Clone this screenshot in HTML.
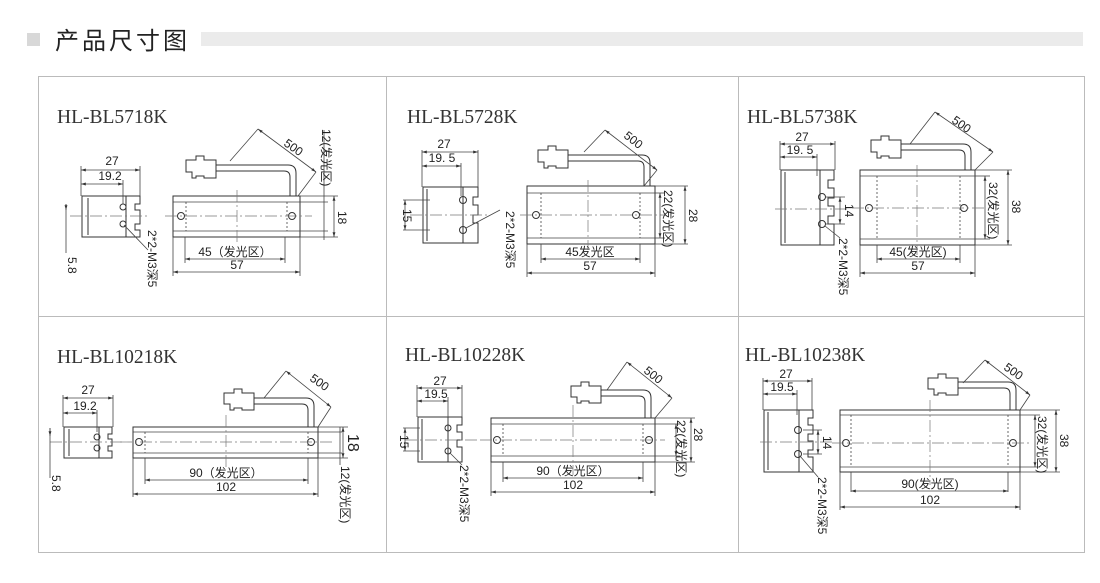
<!DOCTYPE html>
<html><head><meta charset="utf-8"><style>
html,body{margin:0;padding:0;background:#fff;}
svg{display:block;}
text{font-family:"Liberation Sans","Noto Sans CJK SC",sans-serif;fill:#222;}
.t{font-family:"Liberation Serif","Noto Serif CJK SC",serif;font-size:19.5px;fill:#333;}
.d{font-size:12px;}
.l{stroke:#444;stroke-width:0.8;fill:none;}
.b{stroke:#333;stroke-width:1;fill:none;}
.c{stroke:#777;stroke-width:0.7;fill:none;stroke-dasharray:12 3 2 3;}
</style></head><body>
<svg width="1100" height="583" viewBox="0 0 1100 583" xmlns="http://www.w3.org/2000/svg">
<defs>
<marker id="a" viewBox="0 0 10 10" refX="10" refY="5" markerWidth="6" markerHeight="6" orient="auto-start-reverse"><path d="M0,2 L10,5 L0,8z" fill="#333"/></marker>
</defs>
<!-- header -->
<rect x="27" y="33" width="13" height="13" fill="#d8d8d8"/>
<text x="55" y="49" font-size="24" letter-spacing="3" style="font-family:'Noto Sans CJK SC',sans-serif" fill="#333">产品尺寸图</text>
<rect x="201" y="32" width="882" height="14" fill="#ebebeb"/>
<!-- frame -->
<rect x="38.5" y="76.5" width="1046" height="476" fill="none" stroke="#bbb" stroke-width="1"/>
<line x1="386.5" y1="77" x2="386.5" y2="552" stroke="#bbb"/>
<line x1="738.5" y1="77" x2="738.5" y2="552" stroke="#bbb"/>
<line x1="39" y1="316.5" x2="1084" y2="316.5" stroke="#bbb"/>

<!-- ===== Panel 1 ===== -->
<text class="t" x="57" y="123">HL-BL5718K</text>
<g>
<rect class="b" x="82" y="196" width="44" height="41"/>
<line class="b" x1="88" y1="198" x2="88" y2="235"/>
<path class="b" d="M126,196 h14 v8 h-5 v6 h5 v14 h-5 v6 h5 v7 h-14"/>
<circle class="b" cx="123" cy="207" r="3"/><circle class="b" cx="123" cy="224" r="3"/>
<line class="c" x1="70" y1="216" x2="150" y2="216"/>
<line class="l" x1="81" y1="166" x2="81" y2="196"/><line class="l" x1="140" y1="166" x2="140" y2="196"/><line class="l" x1="123" y1="180" x2="123" y2="204"/>
<line class="l" x1="81" y1="170" x2="140" y2="170" marker-start="url(#a)" marker-end="url(#a)"/>
<line class="l" x1="81" y1="184" x2="123" y2="184" marker-start="url(#a)" marker-end="url(#a)"/>
<text class="d" x="112" y="165" text-anchor="middle">27</text>
<text class="d" x="110" y="180" text-anchor="middle">19.2</text>
<line class="l" x1="66" y1="204" x2="66" y2="253"/><line class="l" x1="66" y1="204" x2="66" y2="210" marker-end="url(#a)"/>
<text class="d" transform="translate(68,257) rotate(90)">5.8</text>
<line class="l" x1="124" y1="225" x2="148" y2="250"/>
<text class="d" transform="translate(148,230) rotate(90)" font-size="11">2*2-M3深5</text>
<rect class="b" x="173" y="196" width="127" height="41"/>
<line class="l" x1="173" y1="202" x2="300" y2="202"/><line class="l" x1="173" y1="231" x2="300" y2="231"/>
<line class="l" x1="186" y1="202" x2="186" y2="231" stroke-dasharray="2 2"/><line class="l" x1="287" y1="202" x2="287" y2="231" stroke-dasharray="2 2"/>
<circle class="b" cx="181" cy="216" r="3.5"/><circle class="b" cx="292" cy="216" r="3.5"/>
<line class="c" x1="165" y1="216" x2="312" y2="216"/><line class="c" x1="237" y1="190" x2="237" y2="245"/>
<path class="b" d="M186,160 h10 v-4 h8 v4 h12 v18 h-12 v-2 h-8 v2 h-4 v-6 h-6z"/>
<path class="b" d="M216,165 h72 q8,0 8,8 v23 M216,171 h68 q6,0 6,6 v19"/>
<line class="l" x1="258" y1="129" x2="230" y2="161"/><line class="l" x1="258" y1="129" x2="316" y2="172" marker-start="url(#a)" marker-end="url(#a)"/><line class="l" x1="316" y1="172" x2="298" y2="196"/>
<text class="d" transform="translate(283,145) rotate(35)">500</text>
<line class="l" x1="185" y1="237" x2="185" y2="263"/><line class="l" x1="285" y1="237" x2="285" y2="263"/>
<line class="l" x1="173" y1="237" x2="173" y2="276"/><line class="l" x1="300" y1="237" x2="300" y2="276"/>
<line class="l" x1="185" y1="259" x2="285" y2="259" marker-start="url(#a)" marker-end="url(#a)"/>
<line class="l" x1="173" y1="272" x2="300" y2="272" marker-start="url(#a)" marker-end="url(#a)"/>
<text class="d" x="235" y="256" text-anchor="middle">45（发光区）</text>
<text class="d" x="237" y="269" text-anchor="middle">57</text>
<line class="l" x1="300" y1="196" x2="338" y2="196"/><line class="l" x1="300" y1="237" x2="338" y2="237"/>
<line class="l" x1="300" y1="202" x2="328" y2="202"/><line class="l" x1="300" y1="231" x2="328" y2="231"/>
<line class="l" x1="334" y1="196" x2="334" y2="237" marker-start="url(#a)" marker-end="url(#a)"/>
<line class="l" x1="324" y1="130" x2="324" y2="240"/>
<text class="d" transform="translate(338,211) rotate(90)">18</text>
<text class="d" transform="translate(322,129) rotate(90)">12(发光区)</text>
</g>

<!-- ===== Panel 2 ===== -->
<text class="t" x="407" y="123">HL-BL5728K</text>
<g>
<rect class="b" x="423" y="187" width="40" height="56"/>
<line class="b" x1="427" y1="189" x2="427" y2="241"/>
<path class="b" d="M463,187 h15 v10 h-5 v8 h5 v10 h-5 v8 h5 v20 h-15"/>
<circle class="b" cx="463" cy="200" r="3.5"/><circle class="b" cx="463" cy="230" r="3.5"/>
<line class="c" x1="410" y1="215" x2="490" y2="215"/>
<line class="l" x1="422" y1="150" x2="422" y2="187"/><line class="l" x1="478" y1="150" x2="478" y2="187"/><line class="l" x1="461" y1="163" x2="461" y2="196"/>
<line class="l" x1="422" y1="152" x2="478" y2="152" marker-start="url(#a)" marker-end="url(#a)"/>
<line class="l" x1="422" y1="166" x2="461" y2="166" marker-start="url(#a)" marker-end="url(#a)"/>
<text class="d" x="444" y="148" text-anchor="middle">27</text>
<text class="d" x="442" y="162" text-anchor="middle">19. 5</text>
<line class="l" x1="403" y1="200" x2="430" y2="200"/><line class="l" x1="403" y1="230" x2="430" y2="230"/>
<line class="l" x1="405" y1="200" x2="405" y2="230" marker-start="url(#a)" marker-end="url(#a)"/>
<text class="d" transform="translate(403,209) rotate(90)">15</text>
<line class="l" x1="466" y1="228" x2="500" y2="210"/>
<text class="d" transform="translate(506,211) rotate(90)" font-size="11">2*2-M3深5</text>
<rect class="b" x="527" y="186" width="128" height="58"/>
<line class="l" x1="527" y1="193" x2="655" y2="193"/><line class="l" x1="527" y1="238" x2="655" y2="238"/>
<line class="l" x1="541" y1="193" x2="541" y2="238" stroke-dasharray="2 2"/><line class="l" x1="640" y1="193" x2="640" y2="238" stroke-dasharray="2 2"/>
<circle class="b" cx="536" cy="215" r="3.5"/><circle class="b" cx="636" cy="215" r="3.5"/>
<line class="c" x1="520" y1="215" x2="665" y2="215"/><line class="c" x1="588" y1="180" x2="588" y2="250"/>
<path class="b" d="M538,150 h10 v-4 h8 v4 h12 v18 h-12 v-2 h-8 v2 h-4 v-6 h-6z"/>
<path class="b" d="M568,155 h74 q8,0 8,8 v23 M568,161 h70 q6,0 6,6 v19"/>
<line class="l" x1="605" y1="130" x2="584" y2="152"/><line class="l" x1="605" y1="130" x2="657" y2="170" marker-start="url(#a)" marker-end="url(#a)"/><line class="l" x1="657" y1="170" x2="644" y2="186"/>
<text class="d" transform="translate(623,137) rotate(38)">500</text>
<line class="l" x1="541" y1="244" x2="541" y2="263"/><line class="l" x1="640" y1="244" x2="640" y2="263"/>
<line class="l" x1="527" y1="244" x2="527" y2="277"/><line class="l" x1="655" y1="244" x2="655" y2="277"/>
<line class="l" x1="541" y1="259" x2="640" y2="259" marker-start="url(#a)" marker-end="url(#a)"/>
<line class="l" x1="527" y1="273" x2="655" y2="273" marker-start="url(#a)" marker-end="url(#a)"/>
<text class="d" x="590" y="256" text-anchor="middle">45发光区</text>
<text class="d" x="590" y="270" text-anchor="middle">57</text>
<line class="l" x1="655" y1="186" x2="688" y2="186"/><line class="l" x1="655" y1="244" x2="688" y2="244"/>
<line class="l" x1="655" y1="193" x2="665" y2="193"/><line class="l" x1="655" y1="238" x2="665" y2="238"/>
<line class="l" x1="660" y1="193" x2="660" y2="238" marker-start="url(#a)" marker-end="url(#a)"/>
<line class="l" x1="685" y1="186" x2="685" y2="244" marker-start="url(#a)" marker-end="url(#a)"/>
<text class="d" transform="translate(664,190) rotate(90)">22(发光区)</text>
<text class="d" transform="translate(689,209) rotate(90)">28</text>
</g>

<!-- ===== Panel 3 ===== -->
<text class="t" x="747" y="123">HL-BL5738K</text>
<g>
<rect class="b" x="781" y="170" width="39" height="75"/>
<line class="b" x1="785" y1="172" x2="785" y2="243"/>
<path class="b" d="M820,170 h14 v10 h-6 v8 h6 v10 h-6 v8 h6 v10 h-6 v8 h6 v21 h-14"/>
<circle class="b" cx="822" cy="197" r="3.5"/><circle class="b" cx="822" cy="224" r="3.5"/>
<line class="c" x1="775" y1="209" x2="850" y2="209"/>
<line class="l" x1="780" y1="141" x2="780" y2="170"/><line class="l" x1="835" y1="141" x2="835" y2="170"/><line class="l" x1="817" y1="154" x2="817" y2="176"/>
<line class="l" x1="780" y1="144" x2="835" y2="144" marker-start="url(#a)" marker-end="url(#a)"/>
<line class="l" x1="780" y1="157" x2="817" y2="157" marker-start="url(#a)" marker-end="url(#a)"/>
<text class="d" x="802" y="141" text-anchor="middle">27</text>
<text class="d" x="800" y="154" text-anchor="middle">19. 5</text>
<line class="l" x1="826" y1="197" x2="845" y2="197"/><line class="l" x1="826" y1="224" x2="845" y2="224"/>
<line class="l" x1="840" y1="197" x2="840" y2="224" marker-start="url(#a)" marker-end="url(#a)"/>
<text class="d" transform="translate(845,204) rotate(90)">14</text>
<line class="l" x1="825" y1="226" x2="840" y2="238"/>
<text class="d" transform="translate(839,238) rotate(90)" font-size="10">2*2-M3深5</text>
<rect class="b" x="860" y="170" width="115" height="75"/>
<line class="l" x1="860" y1="176" x2="975" y2="176"/><line class="l" x1="860" y1="239" x2="975" y2="239"/>
<line class="l" x1="877" y1="176" x2="877" y2="239" stroke-dasharray="2 2"/><line class="l" x1="960" y1="176" x2="960" y2="239" stroke-dasharray="2 2"/>
<circle class="b" cx="869" cy="208" r="3.5"/><circle class="b" cx="964" cy="208" r="3.5"/>
<line class="c" x1="852" y1="208" x2="985" y2="208"/><line class="c" x1="917" y1="165" x2="917" y2="255"/>
<path class="b" d="M871,140 h10 v-4 h8 v4 h12 v18 h-12 v-2 h-8 v2 h-4 v-6 h-6z"/>
<path class="b" d="M901,144 h62 q8,0 8,8 v18 M901,150 h58 q6,0 6,6 v14"/>
<line class="l" x1="935" y1="112" x2="910" y2="144"/><line class="l" x1="935" y1="112" x2="993" y2="152" marker-start="url(#a)" marker-end="url(#a)"/><line class="l" x1="993" y1="152" x2="975" y2="170"/>
<text class="d" transform="translate(951,122) rotate(35)">500</text>
<line class="l" x1="877" y1="245" x2="877" y2="263"/><line class="l" x1="960" y1="245" x2="960" y2="263"/>
<line class="l" x1="860" y1="245" x2="860" y2="277"/><line class="l" x1="975" y1="245" x2="975" y2="277"/>
<line class="l" x1="877" y1="259" x2="960" y2="259" marker-start="url(#a)" marker-end="url(#a)"/>
<line class="l" x1="860" y1="273" x2="975" y2="273" marker-start="url(#a)" marker-end="url(#a)"/>
<text class="d" x="918" y="256" text-anchor="middle">45(发光区)</text>
<text class="d" x="918" y="270" text-anchor="middle">57</text>
<line class="l" x1="975" y1="170" x2="1012" y2="170"/><line class="l" x1="975" y1="245" x2="1012" y2="245"/>
<line class="l" x1="975" y1="176" x2="990" y2="176"/><line class="l" x1="975" y1="239" x2="990" y2="239"/>
<line class="l" x1="985" y1="176" x2="985" y2="239" marker-start="url(#a)" marker-end="url(#a)"/>
<line class="l" x1="1008" y1="170" x2="1008" y2="245" marker-start="url(#a)" marker-end="url(#a)"/>
<text class="d" transform="translate(989,182) rotate(90)">32(发光区)</text>
<text class="d" transform="translate(1012,200) rotate(90)" font-size="13">38</text>
</g>

<!-- ===== Panel 4 ===== -->
<text class="t" x="57" y="363">HL-BL10218K</text>
<g>
<rect class="b" x="64" y="427" width="35" height="31"/>
<line class="b" x1="69" y1="429" x2="69" y2="456"/>
<path class="b" d="M99,427 h13 v7 h-4 v5 h4 v7 h-4 v5 h4 v7 h-13"/>
<circle class="b" cx="97" cy="437" r="3"/><circle class="b" cx="97" cy="448" r="3"/>
<line class="c" x1="50" y1="442" x2="122" y2="442"/>
<line class="l" x1="63" y1="395" x2="63" y2="427"/><line class="l" x1="113" y1="395" x2="113" y2="427"/><line class="l" x1="97" y1="410" x2="97" y2="432"/>
<line class="l" x1="63" y1="398" x2="113" y2="398" marker-start="url(#a)" marker-end="url(#a)"/>
<line class="l" x1="63" y1="413" x2="97" y2="413" marker-start="url(#a)" marker-end="url(#a)"/>
<text class="d" x="88" y="394" text-anchor="middle">27</text>
<text class="d" x="85" y="410" text-anchor="middle">19.2</text>
<line class="l" x1="50" y1="428" x2="50" y2="478"/><line class="l" x1="50" y1="428" x2="50" y2="436" marker-end="url(#a)"/>
<text class="d" transform="translate(52,475) rotate(90)">5.8</text>
<rect class="b" x="133" y="427" width="185" height="31"/>
<line class="l" x1="133" y1="432" x2="318" y2="432"/><line class="l" x1="133" y1="453" x2="318" y2="453"/>
<line class="l" x1="145" y1="432" x2="145" y2="453" stroke-dasharray="2 2"/><line class="l" x1="308" y1="432" x2="308" y2="453" stroke-dasharray="2 2"/>
<circle class="b" cx="139" cy="442" r="3.5"/><circle class="b" cx="311" cy="442" r="3.5"/>
<line class="c" x1="120" y1="442" x2="335" y2="442"/><line class="c" x1="226" y1="415" x2="226" y2="470"/>
<path class="b" d="M224,393 h10 v-4 h8 v4 h12 v17 h-12 v-2 h-8 v2 h-4 v-6 h-6z"/>
<path class="b" d="M254,398 h52 q8,0 8,8 v21 M254,404 h48 q6,0 6,6 v17"/>
<line class="l" x1="286" y1="371" x2="264" y2="398"/><line class="l" x1="286" y1="371" x2="331" y2="407" marker-start="url(#a)" marker-end="url(#a)"/><line class="l" x1="331" y1="407" x2="318" y2="427"/>
<text class="d" transform="translate(309,380) rotate(35)">500</text>
<line class="l" x1="145" y1="458" x2="145" y2="484"/><line class="l" x1="308" y1="458" x2="308" y2="484"/>
<line class="l" x1="133" y1="458" x2="133" y2="497"/><line class="l" x1="318" y1="458" x2="318" y2="497"/>
<line class="l" x1="145" y1="480" x2="308" y2="480" marker-start="url(#a)" marker-end="url(#a)"/>
<line class="l" x1="133" y1="494" x2="318" y2="494" marker-start="url(#a)" marker-end="url(#a)"/>
<text class="d" x="226" y="477" text-anchor="middle">90（发光区）</text>
<text class="d" x="226" y="491" text-anchor="middle">102</text>
<line class="l" x1="318" y1="427" x2="348" y2="427"/><line class="l" x1="318" y1="458" x2="348" y2="458"/>
<line class="l" x1="318" y1="432" x2="342" y2="432"/><line class="l" x1="318" y1="453" x2="342" y2="453"/>
<line class="l" x1="343" y1="427" x2="343" y2="458" marker-start="url(#a)" marker-end="url(#a)"/>
<line class="l" x1="340" y1="427" x2="340" y2="465"/>
<text transform="translate(348,434) rotate(90)" font-size="16">18</text>
<text class="d" transform="translate(341,466) rotate(90)">12(发光区)</text>
</g>

<!-- ===== Panel 5 ===== -->
<text class="t" x="405" y="361">HL-BL10228K</text>
<g>
<rect class="b" x="418" y="417" width="30" height="45"/>
<line class="b" x1="422" y1="419" x2="422" y2="460"/>
<path class="b" d="M448,417 h14 v8 h-5 v7 h5 v8 h-5 v7 h5 v15 h-14"/>
<circle class="b" cx="448" cy="428" r="3"/><circle class="b" cx="448" cy="451" r="3"/>
<line class="c" x1="405" y1="440" x2="478" y2="440"/>
<line class="l" x1="417" y1="385" x2="417" y2="417"/><line class="l" x1="462" y1="385" x2="462" y2="417"/><line class="l" x1="448" y1="397" x2="448" y2="424"/>
<line class="l" x1="417" y1="388" x2="462" y2="388" marker-start="url(#a)" marker-end="url(#a)"/>
<line class="l" x1="417" y1="401" x2="448" y2="401" marker-start="url(#a)" marker-end="url(#a)"/>
<text class="d" x="440" y="385" text-anchor="middle">27</text>
<text class="d" x="436" y="398" text-anchor="middle">19.5</text>
<line class="l" x1="403" y1="428" x2="420" y2="428"/><line class="l" x1="403" y1="451" x2="420" y2="451"/>
<line class="l" x1="405" y1="428" x2="405" y2="451" marker-start="url(#a)" marker-end="url(#a)"/>
<text class="d" transform="translate(400,435) rotate(90)">15</text>
<line class="l" x1="450" y1="453" x2="462" y2="465"/>
<text class="d" transform="translate(460,465) rotate(90)" font-size="10">2*2-M3深5</text>
<rect class="b" x="491" y="418" width="164" height="44"/>
<line class="l" x1="491" y1="424" x2="655" y2="424"/><line class="l" x1="491" y1="456" x2="655" y2="456"/>
<line class="l" x1="503" y1="424" x2="503" y2="456" stroke-dasharray="2 2"/><line class="l" x1="643" y1="424" x2="643" y2="456" stroke-dasharray="2 2"/>
<circle class="b" cx="497" cy="440" r="3.5"/><circle class="b" cx="649" cy="440" r="3.5"/>
<line class="c" x1="480" y1="440" x2="665" y2="440"/><line class="c" x1="573" y1="405" x2="573" y2="475"/>
<path class="b" d="M571,386 h10 v-4 h8 v4 h12 v17 h-12 v-2 h-8 v2 h-4 v-6 h-6z"/>
<path class="b" d="M601,390 h42 q8,0 8,8 v20 M601,396 h38 q6,0 6,6 v16"/>
<line class="l" x1="627" y1="362" x2="607" y2="390"/><line class="l" x1="627" y1="362" x2="672" y2="398" marker-start="url(#a)" marker-end="url(#a)"/><line class="l" x1="672" y1="398" x2="655" y2="418"/>
<text class="d" transform="translate(643,372) rotate(38)">500</text>
<line class="l" x1="503" y1="462" x2="503" y2="482"/><line class="l" x1="643" y1="462" x2="643" y2="482"/>
<line class="l" x1="491" y1="462" x2="491" y2="496"/><line class="l" x1="655" y1="462" x2="655" y2="496"/>
<line class="l" x1="503" y1="478" x2="643" y2="478" marker-start="url(#a)" marker-end="url(#a)"/>
<line class="l" x1="491" y1="492" x2="655" y2="492" marker-start="url(#a)" marker-end="url(#a)"/>
<text class="d" x="573" y="475" text-anchor="middle">90（发光区）</text>
<text class="d" x="573" y="489" text-anchor="middle">102</text>
<line class="l" x1="655" y1="418" x2="695" y2="418"/><line class="l" x1="655" y1="462" x2="695" y2="462"/>
<line class="l" x1="655" y1="424" x2="680" y2="424"/><line class="l" x1="655" y1="456" x2="680" y2="456"/>
<line class="l" x1="676" y1="424" x2="676" y2="456" marker-start="url(#a)" marker-end="url(#a)"/>
<line class="l" x1="691" y1="418" x2="691" y2="462" marker-start="url(#a)" marker-end="url(#a)"/>
<text class="d" transform="translate(677,420) rotate(90)">22(发光区)</text>
<text class="d" transform="translate(694,428) rotate(90)">28</text>
</g>

<!-- ===== Panel 6 ===== -->
<text class="t" x="745" y="361">HL-BL10238K</text>
<g>
<rect class="b" x="764" y="410" width="35" height="62"/>
<line class="b" x1="768" y1="412" x2="768" y2="470"/>
<path class="b" d="M799,410 h14 v8 h-5 v7 h5 v9 h-5 v7 h5 v9 h-5 v7 h5 v15 h-14"/>
<circle class="b" cx="798" cy="430" r="3.5"/><circle class="b" cx="798" cy="454" r="3.5"/>
<line class="c" x1="760" y1="442" x2="835" y2="442"/>
<line class="l" x1="763" y1="378" x2="763" y2="410"/><line class="l" x1="812" y1="378" x2="812" y2="410"/><line class="l" x1="797" y1="390" x2="797" y2="415"/>
<line class="l" x1="763" y1="381" x2="812" y2="381" marker-start="url(#a)" marker-end="url(#a)"/>
<line class="l" x1="763" y1="394" x2="797" y2="394" marker-start="url(#a)" marker-end="url(#a)"/>
<text class="d" x="786" y="378" text-anchor="middle">27</text>
<text class="d" x="782" y="391" text-anchor="middle">19.5</text>
<line class="l" x1="803" y1="430" x2="822" y2="430"/><line class="l" x1="803" y1="454" x2="822" y2="454"/>
<line class="l" x1="818" y1="430" x2="818" y2="454" marker-start="url(#a)" marker-end="url(#a)"/>
<text class="d" transform="translate(823,436) rotate(90)">14</text>
<line class="l" x1="800" y1="456" x2="818" y2="477"/>
<text class="d" transform="translate(818,477) rotate(90)" font-size="10">2*2-M3深5</text>
<rect class="b" x="840" y="410" width="180" height="62"/>
<line class="l" x1="840" y1="415" x2="1020" y2="415"/><line class="l" x1="840" y1="467" x2="1020" y2="467"/>
<line class="l" x1="851" y1="415" x2="851" y2="467" stroke-dasharray="2 2"/><line class="l" x1="1008" y1="415" x2="1008" y2="467" stroke-dasharray="2 2"/>
<circle class="b" cx="846" cy="443" r="3.5"/><circle class="b" cx="1013" cy="443" r="3.5"/>
<line class="c" x1="832" y1="443" x2="1030" y2="443"/><line class="c" x1="930" y1="400" x2="930" y2="485"/>
<path class="b" d="M928,378 h10 v-4 h8 v4 h12 v17 h-12 v-2 h-8 v2 h-4 v-6 h-6z"/>
<path class="b" d="M958,382 h50 q8,0 8,8 v20 M958,388 h46 q6,0 6,6 v16"/>
<line class="l" x1="985" y1="360" x2="963" y2="383"/><line class="l" x1="985" y1="360" x2="1030" y2="395" marker-start="url(#a)" marker-end="url(#a)"/><line class="l" x1="1030" y1="395" x2="1020" y2="410"/>
<text class="d" transform="translate(1003,369) rotate(35)">500</text>
<line class="l" x1="851" y1="472" x2="851" y2="492"/><line class="l" x1="1008" y1="472" x2="1008" y2="492"/>
<line class="l" x1="840" y1="472" x2="840" y2="510"/><line class="l" x1="1020" y1="472" x2="1020" y2="510"/>
<line class="l" x1="851" y1="491" x2="1008" y2="491" marker-start="url(#a)" marker-end="url(#a)"/>
<line class="l" x1="840" y1="507" x2="1020" y2="507" marker-start="url(#a)" marker-end="url(#a)"/>
<text class="d" x="930" y="488" text-anchor="middle">90(发光区)</text>
<text class="d" x="930" y="504" text-anchor="middle">102</text>
<line class="l" x1="1020" y1="410" x2="1060" y2="410"/><line class="l" x1="1020" y1="472" x2="1060" y2="472"/>
<line class="l" x1="1020" y1="415" x2="1040" y2="415"/><line class="l" x1="1020" y1="467" x2="1040" y2="467"/>
<line class="l" x1="1035" y1="415" x2="1035" y2="467" marker-start="url(#a)" marker-end="url(#a)"/>
<line class="l" x1="1056" y1="410" x2="1056" y2="472" marker-start="url(#a)" marker-end="url(#a)"/>
<text class="d" transform="translate(1038,416) rotate(90)">32(发光区)</text>
<text class="d" transform="translate(1060,434) rotate(90)" font-size="13">38</text>
</g>
</svg>
</body></html>
